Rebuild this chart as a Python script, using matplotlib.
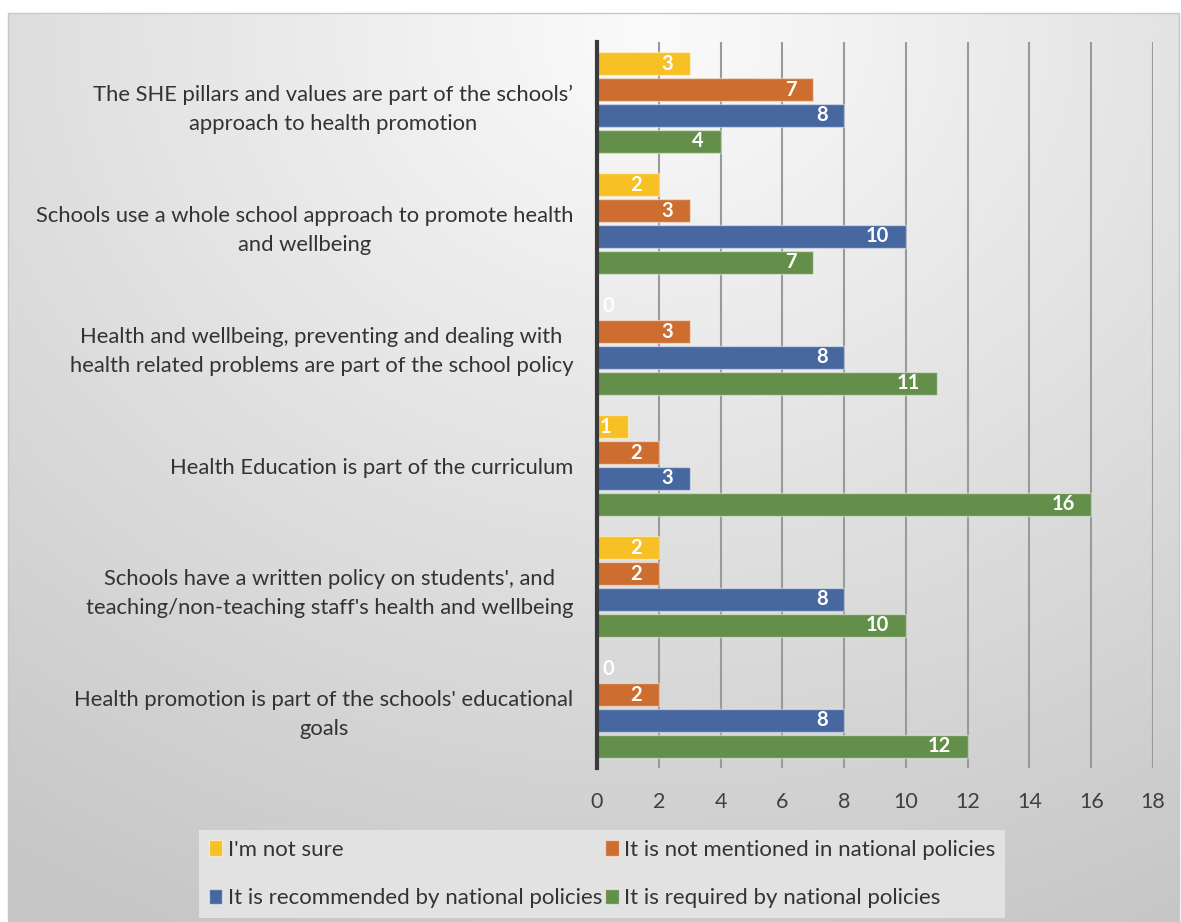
import numpy as np
import matplotlib
matplotlib.use("Agg")
import matplotlib.pyplot as plt
from matplotlib.patches import Patch

plt.rcParams['font.family'] = ['Lato', 'DejaVu Sans']

# ── data (top group first) ──
categories = [
    "The SHE pillars and values are part of the schools’\napproach to health promotion",
    "Schools use a whole school approach to promote health\nand wellbeing",
    "Health and wellbeing, preventing and dealing with\nhealth related problems are part of the school policy",
    "Health Education is part of the curriculum",
    "Schools have a written policy on students', and\nteaching/non-teaching staff's health and wellbeing",
    "Health promotion is part of the schools' educational\ngoals",
]
series = ["I'm not sure", "It is not mentioned in national policies",
          "It is recommended by national policies", "It is required by national policies"]
not_sure    = [3, 2, 0, 1, 2, 0]
not_mention = [7, 3, 3, 2, 2, 2]
recommended = [8, 10, 8, 3, 8, 8]
required    = [4, 7, 11, 16, 10, 12]
values = [not_sure, not_mention, recommended, required]
colors = ["#f7c024", "#cd6e30", "#46679f", "#648f4a"]
xticks = list(range(0, 19, 2))

W, H = 1181, 922
fig = plt.figure(figsize=(W/100, H/100), dpi=100, facecolor="white")

# gradient background panel (radial, light at top centre)
bg = fig.add_axes([8/W, 0, (W-10)/W, (H-13)/H], zorder=-10)
yy, xx = np.mgrid[0:1:300j, 0:1:400j]
r = np.sqrt(((xx-0.55)*1.1)**2 + (yy-0.02)**2)
g = np.clip(0.985 - 0.19*r, 0.78, 1)
bg.imshow(np.dstack([g, g, g]), aspect="auto", extent=[0, 1, 1, 0])
bg.set_axis_off()
fig.patches.append(plt.Rectangle((8/W, 0), (W-10)/W, (H-13)/H, transform=fig.transFigure,
                                 fill=False, edgecolor="#c8c8c8", lw=1, zorder=-5))

ax = fig.add_axes([597/W, 1-768/H, (1153-597)/W, (768-42)/H])
ax.patch.set_alpha(0)
y = np.arange(len(categories))
pitch, h = 0.213, 0.19
for k, (vals, col, name) in enumerate(zip(values, colors, series)):
    pos = y + (k-1.5)*pitch
    ax.barh(pos, vals, height=h, color=col, edgecolor=(1, 1, 1, 0.45), lw=1, label=name, zorder=3)
    for p, v in zip(pos, vals):
        if v == 0:
            ax.annotate(str(v), (0, p), xytext=(4, 0), textcoords="offset points",
                        ha="left", va="center", color="white", fontsize=14.5, fontweight="bold", zorder=4)
        else:
            ax.annotate(str(v), (v, p), xytext=(-12, 0), textcoords="offset points",
                        ha="right", va="center", color="white", fontsize=14.5, fontweight="bold", zorder=4)

ax.set_ylim(len(categories)-0.5, -0.5)
ax.set_xlim(0, 18)
ax.set_xticks(xticks)
ax.tick_params(axis="x", length=0, pad=17, labelsize=15.5, labelcolor="#404040")
ax.set_yticks(y)
ax.set_yticklabels(categories, fontsize=15.8, color="#333333", ha="right",
                   multialignment="center", linespacing=1.6)
ax.tick_params(axis="y", length=0, pad=17)
ax.grid(axis="x", color="#9a9a9a", lw=1.5, zorder=1)
for s in ["top", "right", "bottom"]:
    ax.spines[s].set_visible(False)
ax.spines["left"].set_color("#3a3a3a")
ax.spines["left"].set_linewidth(3)
ax.spines["left"].set_zorder(5)

# row-wise legend order (matplotlib fills columns first)
order = [0, 2, 1, 3]
handles = [Patch(facecolor=colors[i], edgecolor=(1, 1, 1, 0.5), label=series[i]) for i in order]
leg = fig.legend(handles=handles, ncol=2, loc="center", bbox_to_anchor=(602/W, 1-874/H),
                 fontsize=16, frameon=True, facecolor="#e2e2e2", edgecolor="none", framealpha=1,
                 fancybox=False, handlelength=0.6, handleheight=0.7, handletextpad=0.25,
                 columnspacing=0.15, labelspacing=1.3, borderpad=0.45, labelcolor="#333333")

fig.savefig("out.png", dpi=100)
